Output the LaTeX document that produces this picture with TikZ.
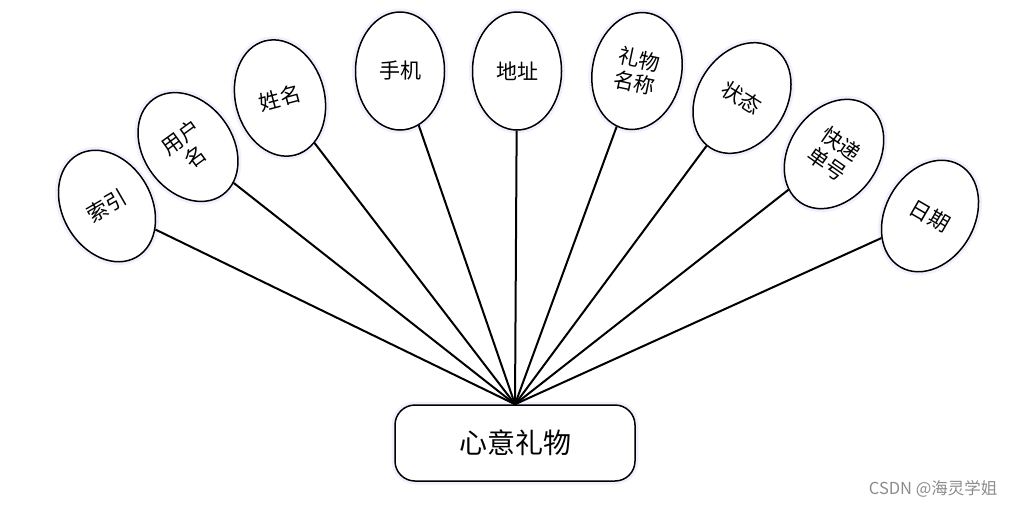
\documentclass[tikz,border=0pt]{standalone}
\usepackage{fontspec}
\newfontfamily\cjk{Noto Sans CJK SC}
\usepackage{tikz}
\usetikzlibrary{shapes.geometric}

\begin{document}
\begin{tikzpicture}[
  x=1pt, y=-1pt,
  every node/.style={font=\cjk},
  attr/.style={draw, ellipse, line width=1.5pt, fill=white, align=center, inner sep=0pt,
    minimum width=89pt, minimum height=118pt, font=\cjk\fontsize{21}{24}\selectfont,
    preaction={draw=blue!6, line width=7pt}},
  entity/.style={draw, rounded corners=20pt, line width=1.5pt, fill=white, align=center,
    minimum width=240pt, minimum height=76pt, font=\cjk\fontsize{28}{32}\selectfont,
    preaction={draw=blue!6, line width=7pt}},
  link/.style={line width=2pt}
]
\useasboundingbox (0,0) rectangle (1016,507);

\node[entity] (gift) at (515,443) {心意礼物};

\node[attr, rotate=30] (idx) at (107,206) {索引};
\node[attr, rotate=36] (uname) at (188,147) {用户\\名};
\node[attr, rotate=15] (realname) at (280,98) {姓名};
\node[attr] (phone) at (400,71) {手机};
\node[attr] (addr) at (517,71) {地址};
\node[attr, rotate=-12] (giftname) at (637,71) {礼物\\名称};
\node[attr, rotate=-32] (state) at (742,98) {状态};
\node[attr, rotate=-35] (expno) at (834,154) {快递\\单号};
\node[attr, rotate=-30] (date) at (930,216) {日期};

\foreach \a in {idx,uname,realname,phone,addr,giftname,state,expno,date}
  \draw[link] (\a) -- (gift.north);

\node[anchor=east, text=black!45, font=\cjk\fontsize{16.5}{19}\selectfont] (mark) at (1001,489) {CSDN @海灵学姐};
\end{tikzpicture}
\end{document}
